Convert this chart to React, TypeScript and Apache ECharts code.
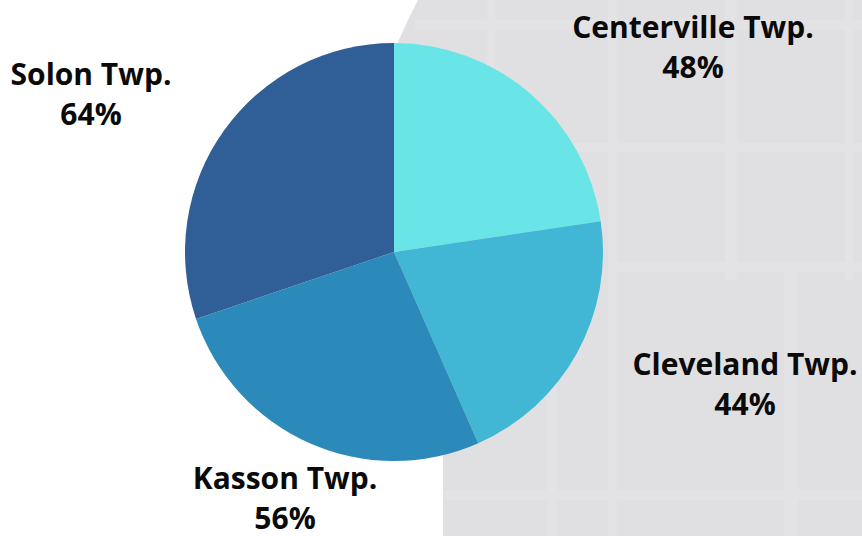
import React, { useEffect, useRef } from "react";
import * as echarts from "echarts";

const categories = ["Centerville Twp.", "Cleveland Twp.", "Kasson Twp.", "Solon Twp."];
const values = [48, 44, 56, 64];
const colors = ["#6ae5e7", "#41b6d5", "#2c8aba", "#2f5f96"];
// label centres (px) for each slice
const labelPos: [number, number][] = [
  [693, 46],
  [745, 383],
  [285, 497],
  [91, 93],
];

const bgLines: [number, number, number, number][] = [
  [415, 20, 447, 10],
  [573, 143, 289, 9],
  [608, 262, 254, 10],
  [443, 490, 419, 10],
  [608, 0, 9, 536],
  [725, 0, 12, 280],
  [845, 0, 8, 280],
  [547, 330, 10, 206],
  [784, 262, 14, 274],
  [487, 0, 8, 140],
];

export default function App() {
  const ref = useRef<HTMLDivElement>(null);
  useEffect(() => {
    const chart = echarts.init(ref.current!, undefined, { renderer: "svg" });
    const graphics: any[] = [
      {
        type: "polygon",
        z: 0,
        silent: true,
        shape: {
          points: [
            [418, 0],
            [862, 0],
            [862, 536],
            [443, 536],
            [443, 440],
            [400, 300],
            [398, 42],
            [408, 20],
          ],
        },
        style: { fill: "#e0e0e2" },
      },
      ...bgLines.map(([x, y, w, h]) => ({
        type: "rect",
        z: 1,
        silent: true,
        shape: { x, y, width: w, height: h },
        style: { fill: "#e3e3e5" },
      })),
    ];
    chart.setOption({
      animation: false,
      backgroundColor: "#ffffff",
      graphic: graphics,
      series: [
        {
          type: "pie",
          z: 5,
          center: [394, 252],
          radius: 209,
          startAngle: 90,
          clockwise: true,
          avoidLabelOverlap: false,
          data: categories.map((n, i) => ({
            name: n,
            value: values[i],
            itemStyle: { color: colors[i] },
          })),
          label: {
            show: true,
            position: "outside",
            formatter: "{b}\n{c}%",
            fontFamily: "Open Sans",
            fontWeight: "bold",
            fontSize: 30,
            lineHeight: 40,
            color: "#0a0a0a",
            align: "center",
          },
          labelLine: { show: false },
          labelLayout: (params: any) => ({
            x: labelPos[params.dataIndex][0],
            y: labelPos[params.dataIndex][1],
            align: "center",
            verticalAlign: "middle",
          }),
          emphasis: { disabled: true },
        },
      ],
    });
    return () => chart.dispose();
  }, []);
  return (
    <div
      ref={ref}
      style={{ position: "fixed", left: 0, top: 0, width: 862, height: 536 }}
    />
  );
}
